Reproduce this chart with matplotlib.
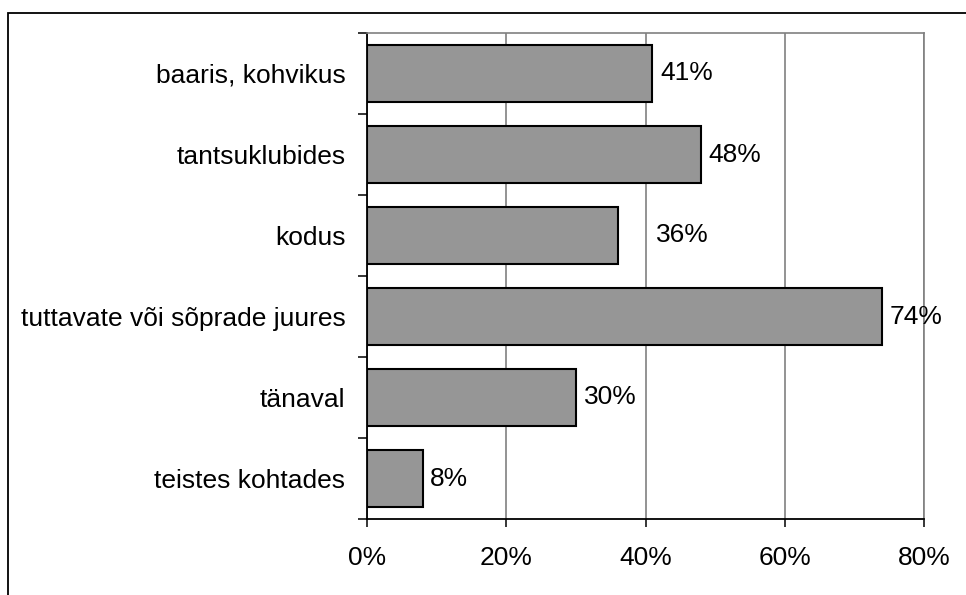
import numpy as np
import matplotlib.pyplot as plt
from matplotlib.patches import Rectangle
from matplotlib.ticker import FixedLocator, PercentFormatter

plt.rcParams['font.family'] = ['Liberation Sans', 'DejaVu Sans']

# ── Data ────────────────────────────────────────────────────────────────────
categories = [
    "baaris, kohvikus",
    "tantsuklubides",
    "kodus",
    "tuttavate või sõprade juures",
    "tänaval",
    "teistes kohtades",
]
values = [41, 48, 36, 74, 30, 8]
x_ticks = [0, 20, 40, 60, 80]

# extra shift (in points) of the value labels; the "kodus" label sits further right
label_shift = [0, 0, 22, 0, 0, 0]

FS = 19

# ── Figure ──────────────────────────────────────────────────────────────────
W, H = 966, 595
fig = plt.figure(figsize=(W / 100, H / 100), dpi=100)
fig.patch.set_facecolor("white")

# outer chart border (only top and left edge visible in the reference)
fig.add_artist(Rectangle((8 / W, -0.05), 1.2, (H - 13) / H + 0.05,
                         transform=fig.transFigure, fill=False,
                         edgecolor="black", linewidth=1.3))

left, right, top, bottom = 367, 924, 33, 519
ax = fig.add_axes([left / W, 1 - bottom / H, (right - left) / W, (bottom - top) / H])

n = len(categories)
ypos = np.arange(n)
ax.barh(ypos, values, height=0.715, color="#969696", edgecolor="black",
        linewidth=1.5, zorder=3)

ax.set_xlim(0, 80)
ax.set_ylim(n - 0.5, -0.5)

# gridlines
ax.xaxis.set_major_locator(FixedLocator(x_ticks))
ax.xaxis.set_major_formatter(PercentFormatter(decimals=0))
ax.grid(axis="x", color="#808080", linewidth=1.2, zorder=0)
ax.set_axisbelow(True)

# spines
for s in ["top", "right"]:
    ax.spines[s].set_color("#808080")
    ax.spines[s].set_linewidth(1.2)
for s in ["left", "bottom"]:
    ax.spines[s].set_color("black")
    ax.spines[s].set_linewidth(1.3)

# y: labels at centres, ticks at category boundaries
ax.set_yticks(ypos)
ax.set_yticklabels(categories, fontsize=FS)
ax.tick_params(axis="y", which="major", length=0, pad=15.5)
ax.set_yticks(np.arange(n + 1) - 0.5, minor=True)
ax.tick_params(axis="y", which="minor", length=6.5, width=1.1, direction="out")

ax.tick_params(axis="x", which="major", length=5.8, width=1.1, direction="out",
               labelsize=FS, pad=13.5)

# value labels
for y, v, sh in zip(ypos, values, label_shift):
    ax.annotate(f"{v}%", (v, y), xytext=(5.5 + sh, 0), textcoords="offset points",
                va="center", ha="left", fontsize=FS, zorder=4)

fig.savefig("out.png", dpi=100, facecolor="white")
